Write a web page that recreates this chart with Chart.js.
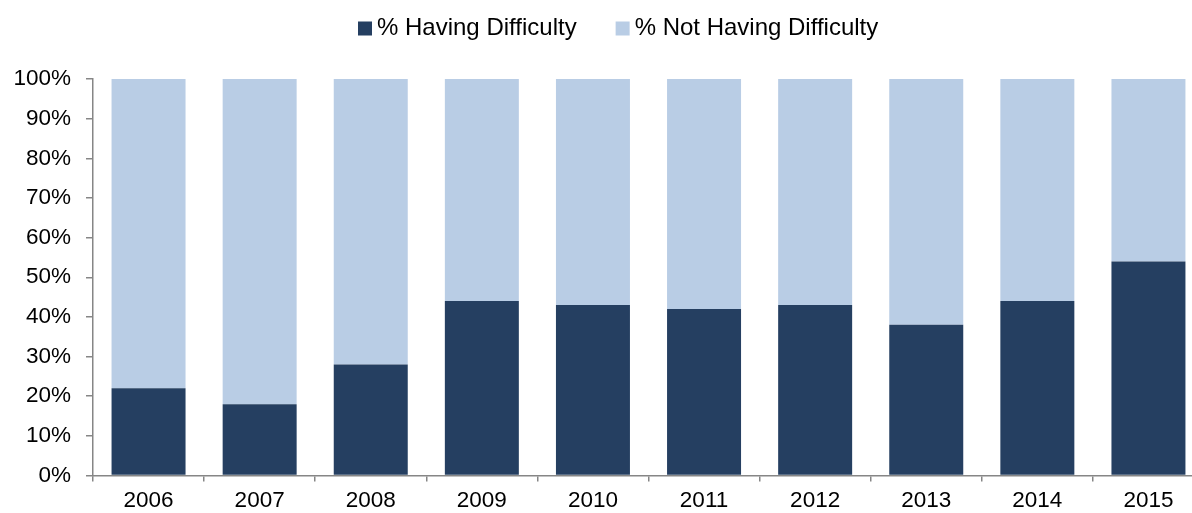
<!DOCTYPE html>
<html><head><meta charset="utf-8">
<script src="https://cdn.jsdelivr.net/npm/chart.js@4"></script>
<style>html,body{margin:0;padding:0;background:#fff;overflow:hidden}#wrap{width:1206px;height:513px}</style>
</head><body><div id="wrap"><canvas id="c" width="1206" height="513"></canvas></div>
<script>
const categories = ['2006','2007','2008','2009','2010','2011','2012','2013','2014','2015'];
const havingDifficulty = [22, 18, 28, 44, 43, 42, 43, 38, 44, 54];
const notHavingDifficulty = [78, 82, 72, 56, 57, 58, 57, 62, 56, 46];
const seriesNames = ['% Having Difficulty', '% Not Having Difficulty'];
const seriesColors = ['#253F61', '#B9CDE5'];

const FONT = '"Liberation Sans", Arial, sans-serif';
Chart.defaults.font.family = FONT;
Chart.defaults.color = '#000';

const customLegend = {
  id: 'customLegend',
  afterDraw(chart) {
    const ctx = chart.ctx;
    ctx.save();
    ctx.font = '24px ' + FONT;
    ctx.textBaseline = 'middle';
    ctx.fillStyle = '#000';
    let x = 358;
    const yMid = 28.5;
    const box = 14, gap = 5, itemGap = 39;
    chart.data.datasets.forEach((ds, i) => {
      ctx.fillStyle = ds.backgroundColor;
      ctx.fillRect(x, yMid - box / 2, box, box);
      x += box + gap;
      ctx.fillStyle = '#000';
      ctx.fillText(ds.label, x, yMid);
      x += ctx.measureText(ds.label).width + itemGap;
    });
    ctx.restore();
  }
};

new Chart(document.getElementById('c'), {
  type: 'bar',
  data: {
    labels: categories,
    datasets: [
      {label: seriesNames[0], data: havingDifficulty, backgroundColor: seriesColors[0], categoryPercentage: 0.666, barPercentage: 1},
      {label: seriesNames[1], data: notHavingDifficulty, backgroundColor: seriesColors[1], categoryPercentage: 0.666, barPercentage: 1}
    ]
  },
  options: {
    responsive: false,
    animation: false,
    layout: {padding: {left: 0, right: 2, top: 79, bottom: 0}},
    plugins: {
      legend: {display: false},
      tooltip: {enabled: false}
    },
    scales: {
      x: {
        stacked: true,
        grid: {drawOnChartArea: false, tickLength: 6, color: '#868686', lineWidth: 1.5, offset: true},
        border: {color: '#868686', width: 1.5},
        ticks: {font: {size: 22.5}, padding: 6, color: '#000'},
        afterFit: s => { s.height = 37.5; }
      },
      y: {
        stacked: true,
        min: 0, max: 100,
        grid: {drawOnChartArea: false, tickLength: 7, color: '#868686', lineWidth: 1.5},
        border: {color: '#868686', width: 1.5},
        ticks: {stepSize: 10, font: {size: 22.5}, padding: 15, color: '#000', callback: v => v + '%'},
        afterFit: s => { s.width = 93; }
      }
    }
  },
  plugins: [customLegend]
});
</script></body></html>
